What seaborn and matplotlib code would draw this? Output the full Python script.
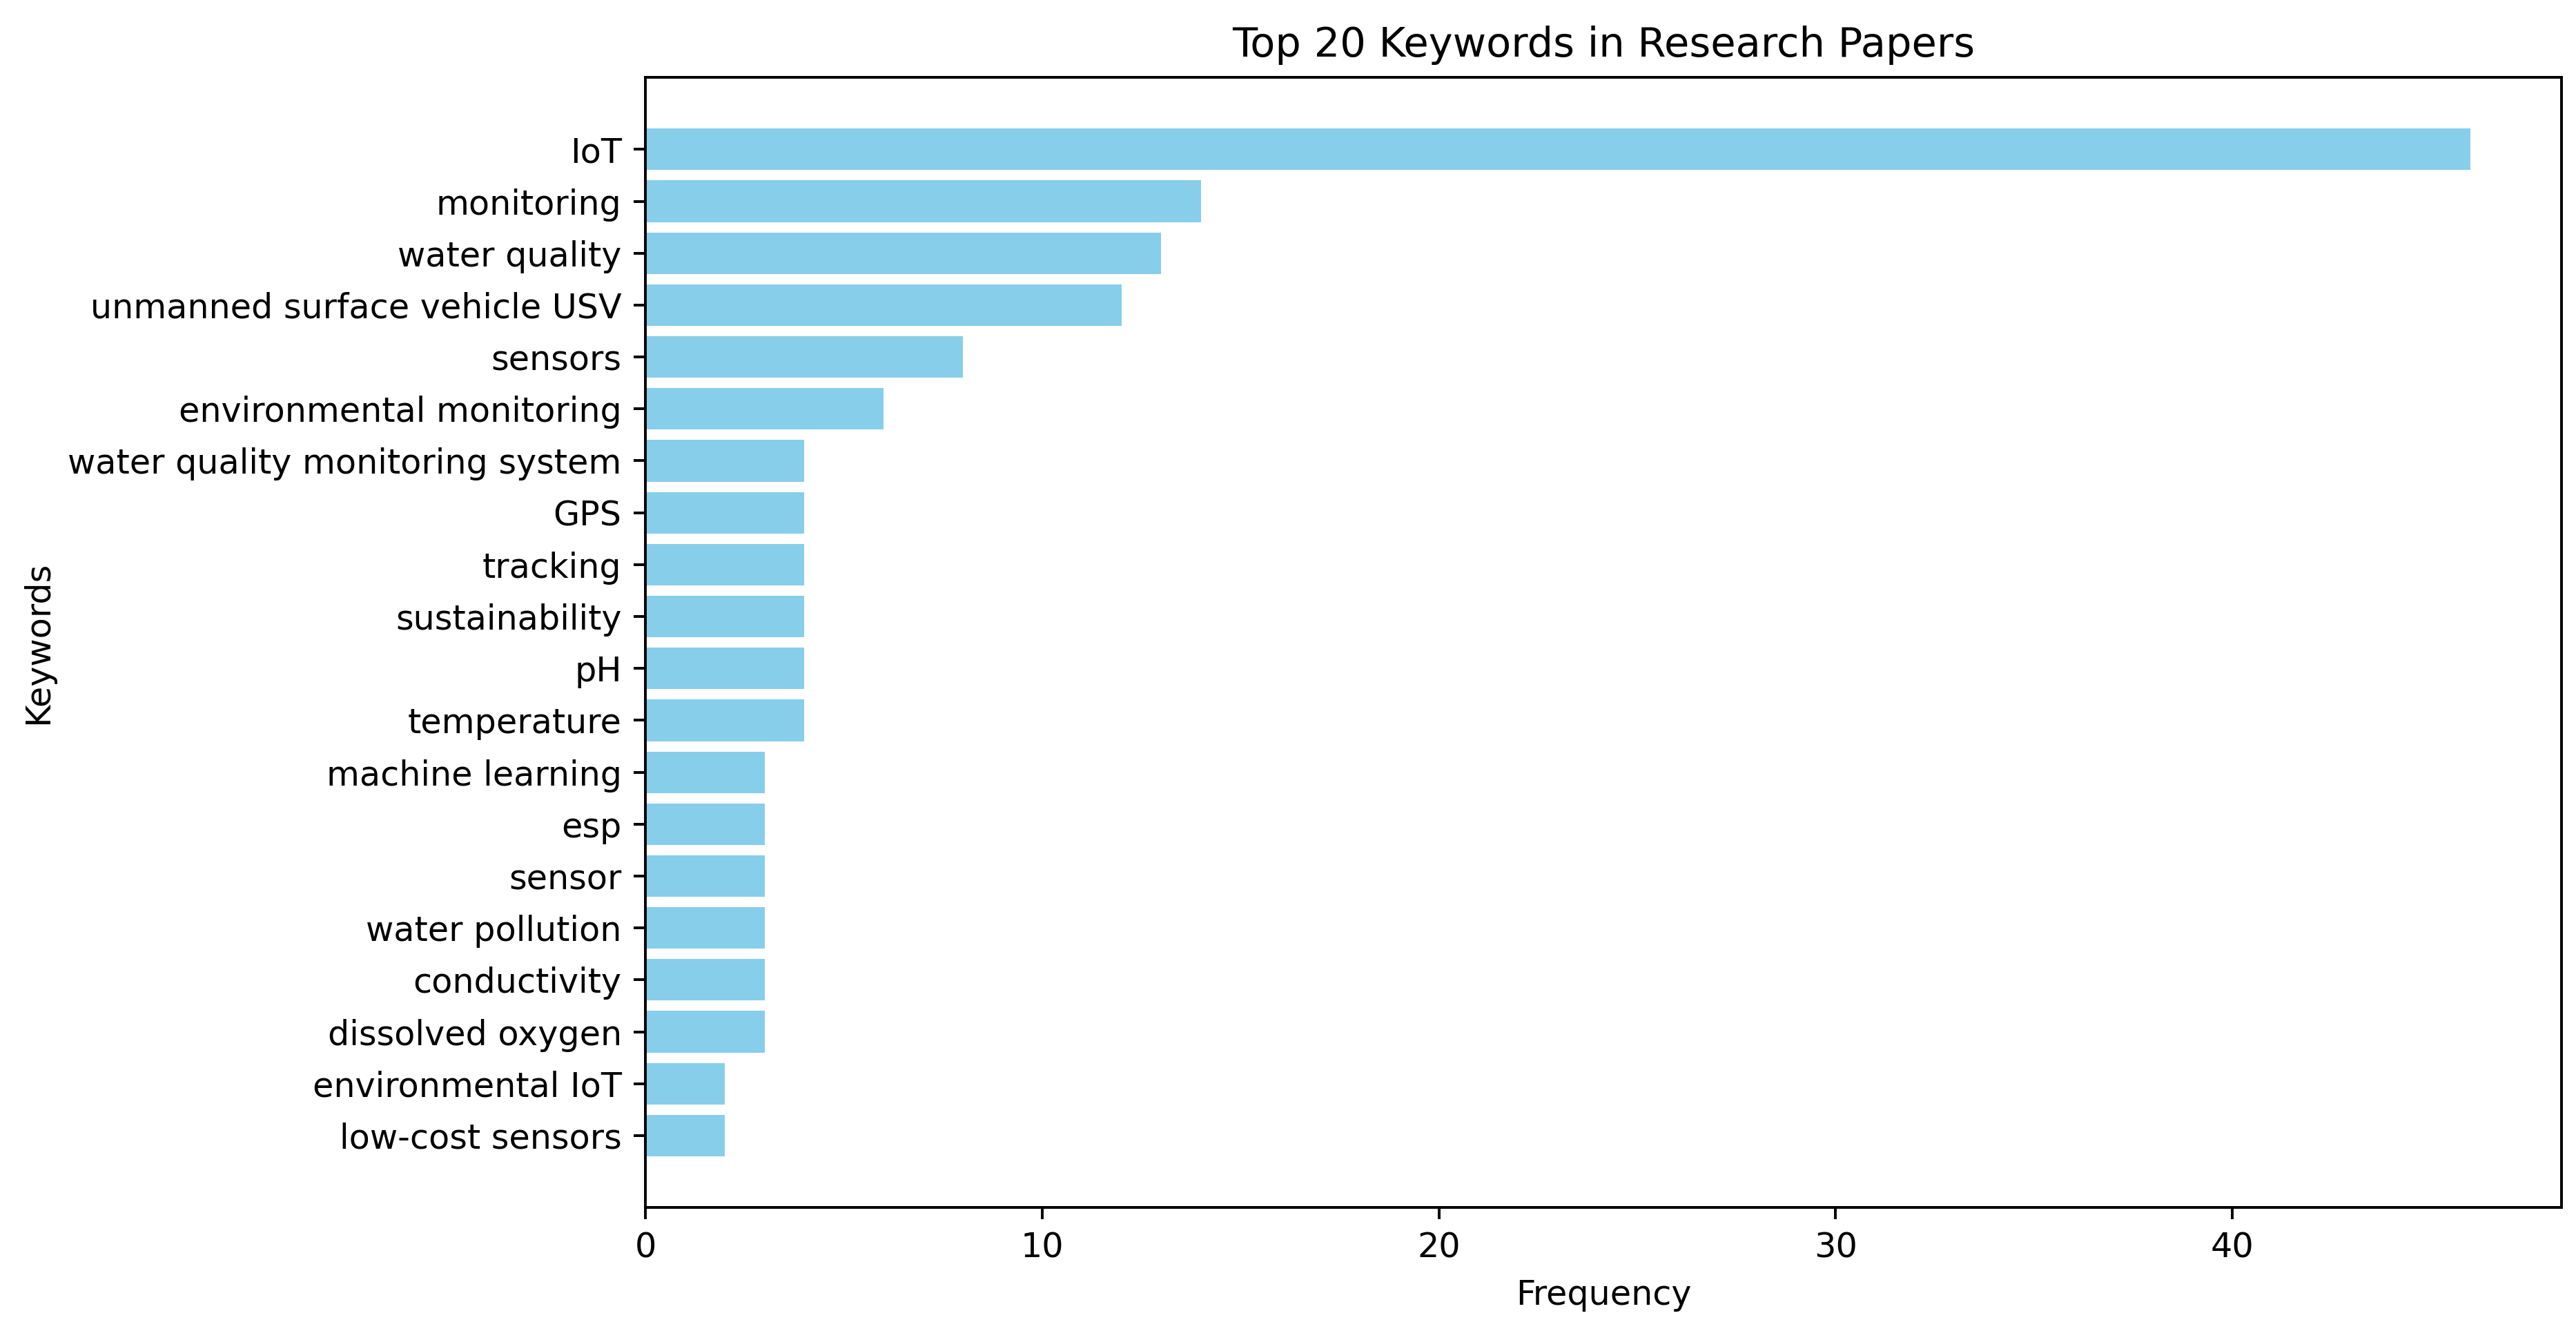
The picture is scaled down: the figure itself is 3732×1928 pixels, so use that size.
import matplotlib
matplotlib.use("Agg")

import matplotlib.pyplot as plt
import seaborn as sns
import pandas as pd

keywords = [
    "IoT", "monitoring", "water quality", "unmanned surface vehicle USV",
    "sensors", "environmental monitoring", "water quality monitoring system",
    "GPS", "tracking", "sustainability", "pH", "temperature",
    "machine learning", "esp", "sensor", "water pollution", "conductivity",
    "dissolved oxygen", "environmental IoT", "low-cost sensors",
]
counts = [46, 14, 13, 12, 8, 6, 4, 4, 4, 4, 4, 4, 3, 3, 3, 3, 3, 3, 2, 2]

df = pd.DataFrame({"Keywords": keywords, "Frequency": counts})

dpi = 355
fig = plt.figure(figsize=(3732 / dpi, 1928 / dpi), dpi=dpi)
ax = fig.add_axes([0.2506, 0.0926, 0.7437, 0.8494])

sns.barplot(data=df, x="Frequency", y="Keywords", color="skyblue",
            saturation=1, width=0.8, orient="h", ax=ax)

n = len(keywords)
pad = 0.05 * (n - 1 + 0.8) + 0.4
ax.set_ylim(n - 1 + pad, -pad)
ax.set_xlim(0, max(counts) * 1.05)

ax.set_title("Top 20 Keywords in Research Papers", fontsize=12)
ax.set_xlabel("Frequency")
ax.set_ylabel("Keywords")

fig.savefig("out.png", dpi=dpi)
plt.close(fig)
